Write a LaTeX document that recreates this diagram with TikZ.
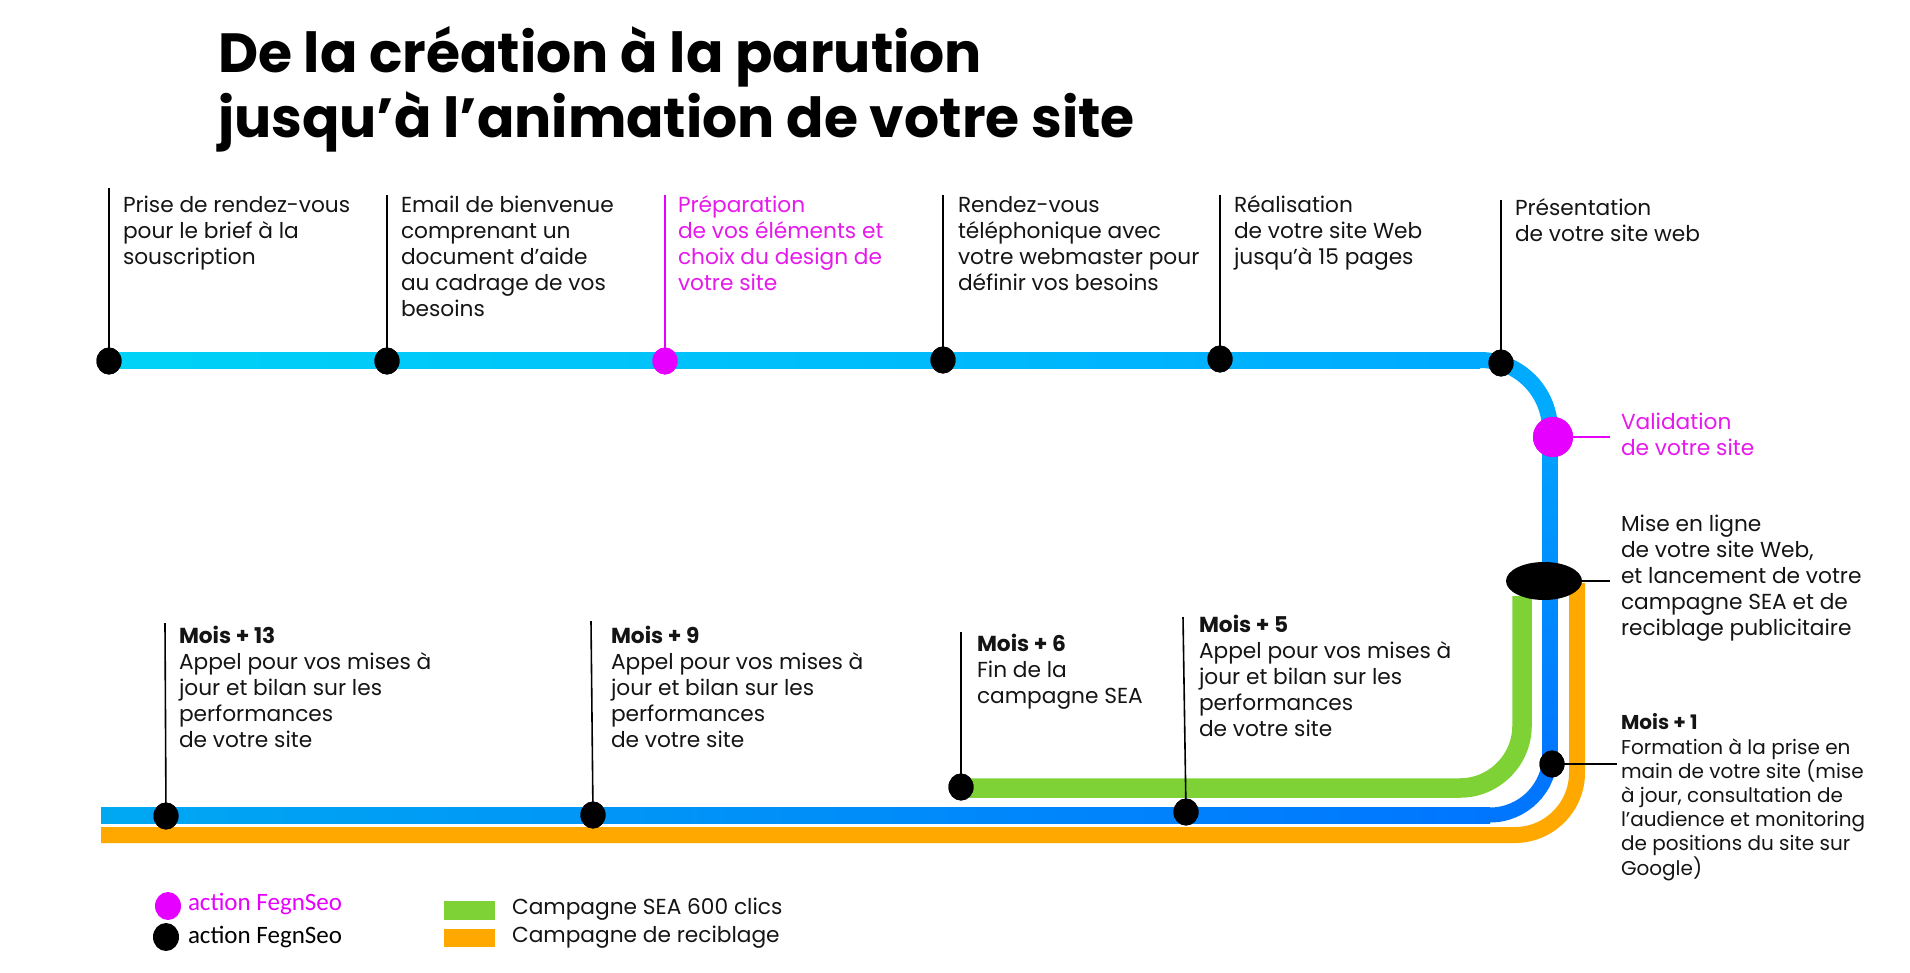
\documentclass[tikz,border=0pt]{standalone}
\usepackage{fontspec}
\setmainfont{Poppins}
\newfontfamily\legendfont{Carlito}
\usetikzlibrary{shapes.geometric}
\definecolor{cyanA}{HTML}{00D3F7}
\definecolor{cyanB}{HTML}{00AAFF}
\definecolor{blueC}{HTML}{00A2FF}
\definecolor{blueD}{HTML}{0076FF}
\definecolor{blueE}{HTML}{00A8F2}
\definecolor{greenL}{HTML}{7ED235}
\definecolor{orangeL}{HTML}{FFA800}
\definecolor{magL}{HTML}{E600FF}
\definecolor{magT}{HTML}{E619EC}
\definecolor{txt}{HTML}{141414}
\begin{document}
\begin{tikzpicture}[x=1pt,y=-1pt,
  every node/.style={inner sep=0pt,outer sep=0pt},
  body/.style={anchor=base west,align=left,text=txt,font=\fontsize{21.7}{26}\selectfont},
  bodysm/.style={anchor=base west,align=left,text=txt,font=\fontsize{20}{24.2}\selectfont},
  tick/.style={line width=1.6pt,draw=black},
  dot/.style={ellipse,fill=black,minimum width=25pt,minimum height=27pt},
  bandline/.style={line width=16pt,line cap=butt},
  title/.style={anchor=base west,font=\fontsize{55.2}{64}\selectfont\bfseries,text=black},
  legtxt/.style={anchor=base west,font=\legendfont\fontsize{25}{28}\selectfont}
]
\useasboundingbox (0,0) rectangle (1910,972);

% ---- title
\node[title] (t1) at (218,72) {De la création à la parution};
\node[title] (t2) at (218,137) {jusqu’à l’animation de votre site};

% ---- coordinates of band geometry
\coordinate (a0) at (109,360);
\coordinate (a1) at (1480,360);
\coordinate (a2) at (1550,430);
\coordinate (a3) at (1550,755);
\coordinate (a4) at (1490,815);
\coordinate (a5) at (101,815);

\coordinate (o0) at (1577,583);
\coordinate (o1) at (1577,773);
\coordinate (o2) at (1515,835);
\coordinate (o3) at (101,835);

\coordinate (g0) at (1522,596);
\coordinate (g1) at (1522,726);
\coordinate (g2) at (1460,788);
\coordinate (g3) at (961,788);

% ---- green & orange lines
\draw[bandline,line width=19.5pt,greenL] (g0) -- (g1) .. controls +(0,34) and +(34,0) .. (g2) -- (g3);
\draw[bandline,orangeL] (o0) -- (o1) .. controls +(0,34) and +(34,0) .. (o2) -- (o3);

% ---- blue line (gradient pieces)
\shade[left color=cyanA,right color=cyanB] ([yshift=8pt]a0) rectangle ([yshift=-8pt]a1);
\draw[bandline,cyanB] (a1) .. controls +(38.6,0) and +(0,-38.6) .. (a2);
\shade[top color=blueC,bottom color=blueD] ([xshift=-7.5pt]a2) rectangle ([xshift=7.5pt]a3);
\draw[bandline,line width=15pt,blueD] (a3) .. controls +(0,33) and +(33,0) .. (a4);
\shade[left color=blueE,right color=blueD] ([yshift=8pt]a5) rectangle ([yshift=-8pt]a4);

% ---- top stops
\coordinate (k1) at (109,188);
\coordinate (k2) at (387,195);
\coordinate (k3) at (665,195);
\coordinate (k4) at (943,195);
\coordinate (k5) at (1220,195);
\coordinate (k6) at (1501,200);
\node[dot] (d1) at (109,361) {};
\node[dot] (d2) at (387,361) {};
\node[dot,fill=magL] (d3) at (665,361) {};
\node[dot] (d4) at (943,360) {};
\node[dot] (d5) at (1220,359) {};
\node[dot] (d6) at (1501,363) {};
\draw[tick] (d1.center) -- (k1);
\draw[tick] (d2.center) -- (k2);
\draw[tick,draw=magL] (d3.center) -- (k3);
\draw[tick] (d4.center) -- (k4);
\draw[tick] (d5.center) -- (k5);
\draw[tick] (d6.center) -- (k6);
\foreach \n in {1,2,4,5,6} \node[dot] at (d\n.center) {};
\node[dot,fill=magL] at (d3.center) {};

% base anchor of a multi-line node = baseline of its last line
\node[body] (c1) at (123,264) {Prise de rendez-vous\\pour le brief à la\\souscription};
\node[body] (c2) at (401,316) {Email de bienvenue\\comprenant un\\document d’aide\\au cadrage de vos\\besoins};
\node[body,text=magT] (c3) at (678,290) {Préparation\\de vos éléments et\\choix du design de\\votre site};
\node[body] (c4) at (958,290) {Rendez-vous\\téléphonique avec\\votre webmaster pour\\définir vos besoins};
\node[body] (c5) at (1234,264) {Réalisation\\de votre site Web\\jusqu’à 15 pages};
\node[body] (c6) at (1515,241) {Présentation\\de votre site web};

% ---- right side
\coordinate (mv) at (1610,437);
\node[circle,fill=magL,minimum size=40pt] (val) at (1553,437) {};
\draw[line width=1.6pt,magL] (val.center) -- (mv);
\node[circle,fill=magL,minimum size=40pt] at (val.center) {};
\node[body,text=magT] (vtxt) at (1621,455) {Validation\\de votre site};

\coordinate (me) at (1610,581);
\node[ellipse,fill=black,minimum width=76pt,minimum height=38pt] (ell) at (1544,581) {};
\draw[line width=1.6pt] (ell.east) -- (me);
\node[body] (mtxt) at (1621,635) {Mise en ligne\\de votre site Web,\\et lancement de votre\\campagne SEA et de\\reciblage publicitaire};

\coordinate (m1e) at (1617,764);
\node[dot] (m1) at (1552,764) {};
\draw[line width=1.6pt] (m1.center) -- (m1e);
\node[dot] at (m1.center) {};
\node[bodysm] (m1txt) at (1621,875) {\textbf{Mois + 1}\\Formation à la prise en\\main de votre site (mise\\à jour, consultation de\\l’audience et monitoring\\de positions du site sur\\Google)};

% ---- bottom stops
\coordinate (b13) at (165,623);
\coordinate (b9) at (591,621);
\coordinate (b6) at (961,632);
\coordinate (b5) at (1183,617);
\node[dot] (s13) at (166,816) {};
\node[dot] (s9) at (593,815) {};
\node[dot] (s6) at (961,787) {};
\node[dot] (s5) at (1186,812) {};
\draw[tick] (s13.center) -- (b13);
\draw[tick] (s9.center) -- (b9);
\draw[tick] (s6.center) -- (b6);
\draw[tick] (s5.center) -- (b5);
\foreach \n in {13,9,6,5} \node[dot] at (s\n.center) {};

\node[body] (x13) at (179,747) {\textbf{Mois + 13}\\Appel pour vos mises à\\jour et bilan sur les\\performances\\de votre site};
\node[body] (x9) at (611,747) {\textbf{Mois + 9}\\Appel pour vos mises à\\jour et bilan sur les\\performances\\de votre site};
\node[body] (x6) at (977,703) {\textbf{Mois + 6}\\Fin de la\\campagne SEA};
\node[body] (x5) at (1199,736) {\textbf{Mois + 5}\\Appel pour vos mises à\\jour et bilan sur les\\performances\\de votre site};

% ---- legend
\node[ellipse,fill=magL,minimum width=26pt,minimum height=28pt] (l1) at (168,906) {};
\node[legtxt,text=magL] (l1t) at (188,910) {action FegnSeo};
\node[ellipse,fill=black,minimum width=26pt,minimum height=28pt] (l2) at (166,937) {};
\node[legtxt,text=black] (l2t) at (188,943) {action FegnSeo};
\node[fill=greenL,minimum width=51pt,minimum height=19pt] (l3) at (469.5,910.5) {};
\node[fill=orangeL,minimum width=51pt,minimum height=18pt] (l4) at (469.5,938) {};
\node[body] (l3t) at (512,914) {Campagne SEA 600 clics};
\node[body] (l4t) at (512,942) {Campagne de reciblage};
\end{tikzpicture}
\end{document}
